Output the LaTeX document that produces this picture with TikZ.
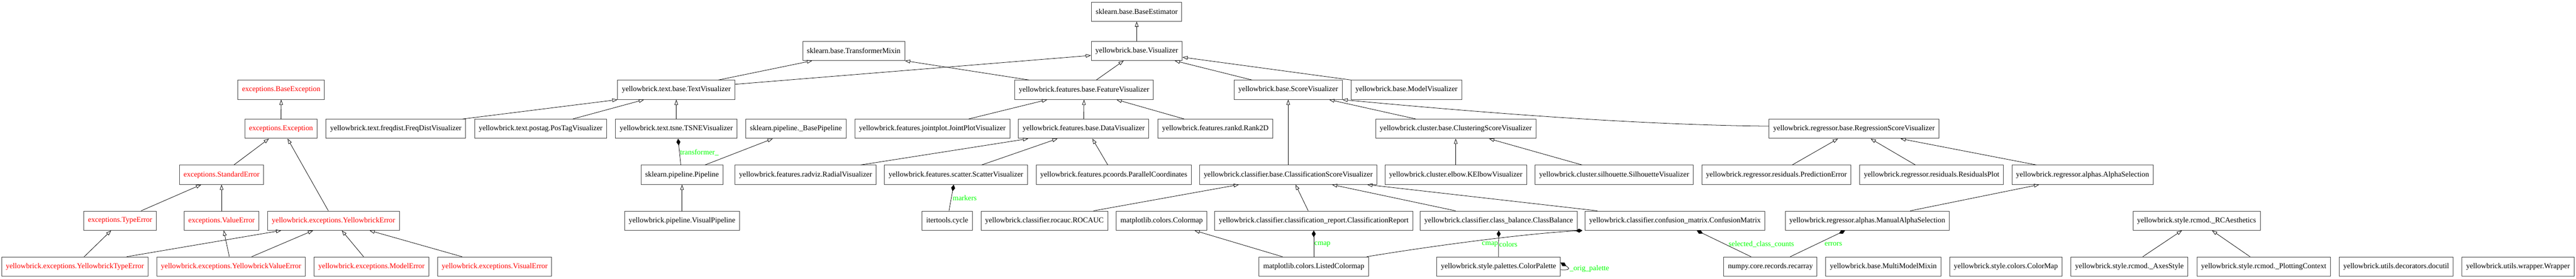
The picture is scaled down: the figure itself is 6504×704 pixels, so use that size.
\documentclass[tikz,border=0pt]{standalone}
\usepackage{fontspec}
\setmainfont{Liberation Serif}
\usetikzlibrary{arrows.meta}
\definecolor{attrgreen}{RGB}{0,255,0}
\begin{document}
\begin{tikzpicture}[x=1pt,y=-1pt,line width=1pt,
		cls/.style={draw=black!75,rectangle,line width=1.3pt,minimum height=48.5pt,inner xsep=10.5pt,font=\fontsize{18.8}{22}\selectfont},
		exc/.style={cls,text=red},
		attr/.style={text=attrgreen,inner sep=1pt,font=\fontsize{18.8}{22}\selectfont},
		inh/.style={-{Triangle[open,length=13pt,width=9pt]}},
		comp/.style={-{Diamond[length=17pt,width=10pt]}}]
		\useasboundingbox (0,0) rectangle (6504,704);
		\begin{scope}[nodes={cls}]
		\node[exc] (bexc) at (710,227) {exceptions.BaseException};
		\node[exc] (exc) at (709.5,325.6) {exceptions.Exception};
		\node (freq) at (999.5,325.6) {yellowbrick.text.freqdist.FreqDistVisualizer};
		\node[exc] (stderr) at (559.5,441.7) {exceptions.StandardError};
		\node[exc] (typeerr) at (303.3,557.6) {exceptions.TypeError};
		\node[exc] (valerr) at (559.5,557.6) {exceptions.ValueError};
		\node[exc] (yberr) at (842,557.6) {yellowbrick.exceptions.YellowbrickError};
		\node[exc] (ybtype) at (189,673.6) {yellowbrick.exceptions.YellowbrickTypeError};
		\node[exc] (ybval) at (583.5,673.6) {yellowbrick.exceptions.YellowbrickValueError};
		\node[exc] (modelerr) at (938,673.6) {yellowbrick.exceptions.ModelError};
		\node[exc] (viserr) at (1249,673.6) {yellowbrick.exceptions.VisualError};
		\node (textvis) at (1707.5,227) {yellowbrick.text.base.TextVisualizer};
		\node (tmixin) at (2155.5,128.6) {sklearn.base.TransformerMixin};
		\node (postag) at (1365,325.6) {yellowbrick.text.postag.PosTagVisualizer};
		\node (tsne) at (1707.5,325.6) {yellowbrick.text.tsne.TSNEVisualizer};
		\node (bpipe) at (2009.5,325.6) {sklearn.pipeline.\_BasePipeline};
		\node (joint) at (2354,325.6) {yellowbrick.features.jointplot.JointPlotVisualizer};
		\node (pipe) at (1722,441.7) {sklearn.pipeline.Pipeline};
		\node (radviz) at (2034,441.7) {yellowbrick.features.radviz.RadialVisualizer};
		\node (vpipe) at (1722,557.6) {yellowbrick.pipeline.VisualPipeline};
		\node (best) at (2870,29.6) {sklearn.base.BaseEstimator};
		\node (vis) at (2870,128.6) {yellowbrick.base.Visualizer};
		\node (featvis) at (2737,227) {yellowbrick.features.base.FeatureVisualizer};
		\node (scorevis) at (3252.5,227) {yellowbrick.base.ScoreVisualizer};
		\node (datavis) at (2736,325.6) {yellowbrick.features.base.DataVisualizer};
		\node (rank) at (3068.5,325.6) {yellowbrick.features.rankd.Rank2D};
		\node (scatter) at (2413.5,441.7) {yellowbrick.features.scatter.ScatterVisualizer};
		\node (pcoords) at (2812,441.7) {yellowbrick.features.pcoords.ParallelCoordinates};
		\node (clfvis) at (3252.5,441.7) {yellowbrick.classifier.base.ClassificationScoreVisualizer};
		\node (cycle) at (2391.5,557.6) {itertools.cycle};
		\node (rocauc) at (2637,557.6) {yellowbrick.classifier.rocauc.ROCAUC};
		\node (cmap) at (2933,557.6) {matplotlib.colors.Colormap};
		\node (clfrep) at (3317,557.6) {yellowbrick.classifier.classification\_report.ClassificationReport};
		\node (lcmap) at (3317,673.6) {matplotlib.colors.ListedColormap};
		\node (modelvis) at (3551,227) {yellowbrick.base.ModelVisualizer};
		\node (clustvis) at (3675.5,325.6) {yellowbrick.cluster.base.ClusteringScoreVisualizer};
		\node (elbow) at (3675.5,441.7) {yellowbrick.cluster.elbow.KElbowVisualizer};
		\node (silh) at (4075.5,441.7) {yellowbrick.cluster.silhouette.SilhouetteVisualizer};
		\node (prederr) at (4485,441.7) {yellowbrick.regressor.residuals.PredictionError};
		\node (clsbal) at (3784,557.6) {yellowbrick.classifier.class\_balance.ClassBalance};
		\node (confmat) at (4229,557.6) {yellowbrick.classifier.confusion\_matrix.ConfusionMatrix};
		\node (palette) at (3783.5,673.6) {yellowbrick.style.palettes.ColorPalette};
		\node (recarray) at (4470,673.6) {numpy.core.records.recarray};
		\node (regvis) at (4681,325.6) {yellowbrick.regressor.base.RegressionScoreVisualizer};
		\node (resid) at (4877,441.7) {yellowbrick.regressor.residuals.ResidualsPlot};
		\node (alpha) at (5258,441.7) {yellowbrick.regressor.alphas.AlphaSelection};
		\node (malpha) at (4714.5,557.6) {yellowbrick.regressor.alphas.ManualAlphaSelection};
		\node (rcaes) at (5546,557.6) {yellowbrick.style.rcmod.\_RCAesthetics};
		\node (multi) at (4755,673.6) {yellowbrick.base.MultiModelMixin};
		\node (ybcmap) at (5064.5,673.6) {yellowbrick.style.colors.ColorMap};
		\node (axes) at (5376.5,673.6) {yellowbrick.style.rcmod.\_AxesStyle};
		\node (plotctx) at (5715.5,673.6) {yellowbrick.style.rcmod.\_PlottingContext};
		\node (docutil) at (6050,673.6) {yellowbrick.utils.decorators.docutil};
		\node (wrapper) at (6357.5,673.6) {yellowbrick.utils.wrapper.Wrapper};
		\end{scope}
		\draw[inh] (exc.north) -- (bexc.south);
		\draw[inh] ([xshift=31pt]stderr.north) -- ([xshift=-30.5pt]exc.south);
		\draw[inh] ([xshift=-13pt]yberr.north) -- ([xshift=16.5pt]exc.south);
		\draw[inh] ([xshift=53pt]typeerr.north) -- ([xshift=-51.5pt]stderr.south);
		\draw[inh] (valerr.north) -- (stderr.south);
		\draw[inh] ([xshift=23.6pt]ybtype.north) -- ([xshift=-22.7pt]typeerr.south);
		\draw[inh] ([xshift=131pt]ybtype.north) -- ([xshift=-132pt]yberr.south);
		\draw[inh] ([xshift=-4.5pt]ybval.north) -- ([xshift=5.5pt]valerr.south);
		\draw[inh] ([xshift=52pt]ybval.north) -- ([xshift=-51.4pt]yberr.south);
		\draw[inh] ([xshift=-20pt]modelerr.north) -- ([xshift=21pt]yberr.south);
		\draw[inh] ([xshift=-82.4pt]viserr.north) -- ([xshift=91pt]yberr.south);
		\draw[inh] ([xshift=168.5pt]freq.north) -- (textvis.south west);
		\draw[inh] ([xshift=81pt]postag.north) -- ([xshift=-81.5pt]textvis.south);
		\draw[inh] (tsne.north) -- (textvis.south);
		\draw[inh] ([xshift=106.5pt]textvis.north) -- ([xshift=-105pt]tmixin.south);
		\draw[inh] ([yshift=14pt]textvis.east) -- ([yshift=-11.5pt]vis.west);
		\draw[comp] ([xshift=-3pt]pipe.north) -- node[attr,pos=0.48,anchor=west] (ltransf) {transformer\_} ([xshift=4.5pt]tsne.south);
		\draw[inh] ([xshift=58pt]pipe.north) -- ([xshift=-58.5pt]bpipe.south);
		\draw[inh] (vpipe.north) -- (pipe.south);
		\draw[inh] ([xshift=139pt]radviz.north) -- ([xshift=-140pt]datavis.south);
		\draw[inh] (vis.north) -- (best.south);
		\draw[inh] ([xshift=-139pt]featvis.north) -- (tmixin.south east);
		\draw[inh] ([xshift=31pt]featvis.north) -- ([xshift=-33pt]vis.south);
		\draw[inh] ([xshift=-91.5pt]scorevis.north) -- ([xshift=96pt]vis.south);
		\draw[inh] (modelvis.north west) -- ([yshift=-16pt]vis.east);
		\draw[inh] ([xshift=91.5pt]joint.north) -- ([xshift=-93pt]featvis.south);
		\draw[inh] (datavis.north) -- (featvis.south);
		\draw[inh] ([xshift=-78.5pt]rank.north) -- ([xshift=82pt]featvis.south);
		\draw[inh] ([xshift=65pt]scatter.north) -- ([xshift=-66pt]datavis.south);
		\draw[inh] ([xshift=-15pt]pcoords.north) -- ([xshift=22pt]datavis.south);
		\draw[inh] (clfvis.north) -- (scorevis.south);
		\draw[comp] ([xshift=4.5pt]cycle.north) -- node[attr,pos=0.5,anchor=west,xshift=2pt] (lmarkers) {markers} ([xshift=-5.5pt]scatter.south);
		\draw[inh] ([xshift=124pt]rocauc.north) -- ([xshift=-124.5pt]clfvis.south);
		\draw[inh] ([xshift=-14pt]clfrep.north) -- ([xshift=18.5pt]clfvis.south);
		\draw[inh] ([xshift=-79pt]lcmap.north) -- ([xshift=83pt]cmap.south);
		\draw[inh] ([xshift=-100.5pt]clustvis.north) -- ([xshift=103.5pt]scorevis.south);
		\draw[inh] ([yshift=6.8pt]regvis.west) .. controls +(-350,-3) and +(300,28) .. (scorevis.south east);
		\draw[inh] (elbow.north) -- (clustvis.south);
		\draw[inh] ([xshift=-81pt]silh.north) -- ([xshift=84pt]clustvis.south);
		\draw[inh] ([xshift=-109pt]clsbal.north) -- ([xshift=110.5pt]clfvis.south);
		\draw[inh] ([xshift=-196pt]confmat.north) -- ([xshift=199.5pt]clfvis.south);
		\draw[comp] (lcmap.north) -- node[attr,pos=0.48,anchor=west] (lcmapa) {cmap} (clfrep.south);
		\draw[comp] (palette.north) -- node[attr,pos=0.48,anchor=east] (lcmapb) {cmap} node[attr,pos=0.48,anchor=west] (lcolors) {colors} (clsbal.south);
		\draw[comp] ([xshift=134pt]lcmap.north) .. controls +(150,-25) and +(-150,8) .. ([xshift=-6pt]confmat.south west);
		\draw[comp] ([xshift=-49pt]recarray.north) -- node[attr,pos=0.48,anchor=west,xshift=8pt] (lselcnt) {selected\_class\_counts} ([xshift=55pt]confmat.south);
		\draw[comp] ([yshift=-8pt]palette.east) .. controls +(30,2) and +(20,12) .. ([yshift=10pt]palette.east) node[attr,pos=0.45,anchor=west,xshift=3pt] (lorig) {\_orig\_palette};
		\draw[inh] ([xshift=40pt]prederr.north) -- ([xshift=-40.4pt]regvis.south);
		\draw[inh] ([xshift=-41pt]resid.north) -- ([xshift=42pt]regvis.south);
		\draw[inh] ([xshift=-116.5pt]alpha.north) -- ([xshift=117.5pt]regvis.south);
		\draw[inh] ([xshift=108.5pt]malpha.north) -- ([xshift=-109.5pt]alpha.south);
		\draw[comp] ([xshift=50pt]recarray.north) -- node[attr,pos=0.48,anchor=west,xshift=19pt] (lerrors) {errors} ([xshift=-56pt]malpha.south);
		\draw[inh] ([xshift=33.5pt]axes.north) -- ([xshift=-37pt]rcaes.south);
		\draw[inh] ([xshift=-34.5pt]plotctx.north) -- ([xshift=39pt]rcaes.south);
\end{tikzpicture}
\end{document}
